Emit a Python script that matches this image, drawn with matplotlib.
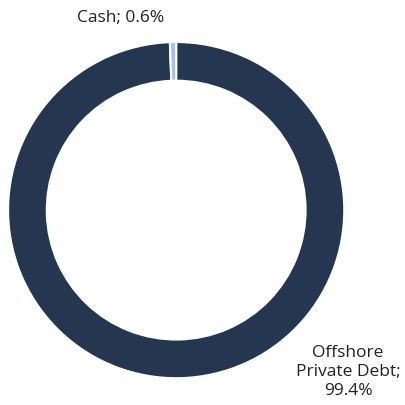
import matplotlib.pyplot as plt

labels = ["Offshore\nPrivate Debt;\n99.4%", "Cash; 0.6%"]
values = [99.4, 0.6]
colors = ["#253750", "#a9c0e2"]

fig = plt.figure(figsize=(4.05, 4.06), dpi=100)
ax = fig.add_axes([0.435-0.415, 0.480-0.414, 0.830, 0.828])
ax.pie(values, colors=colors, startangle=90, counterclock=False, radius=1,
       wedgeprops=dict(width=0.23, edgecolor="white", linewidth=1.5))
ax.set_xlim(-1, 1)
ax.set_ylim(-1, 1)
ax.set_aspect("equal")
ax.axis("off")
fig.text(121/405, 1-18/406, labels[1], ha="center", va="center", fontsize=12.5, family="Open Sans", color="#222222")
fig.text(348/405, 1-372/406, labels[0], ha="center", va="center", fontsize=12.5, family="Open Sans", color="#222222", linespacing=1.25)
fig.savefig("out.png", dpi=100)
